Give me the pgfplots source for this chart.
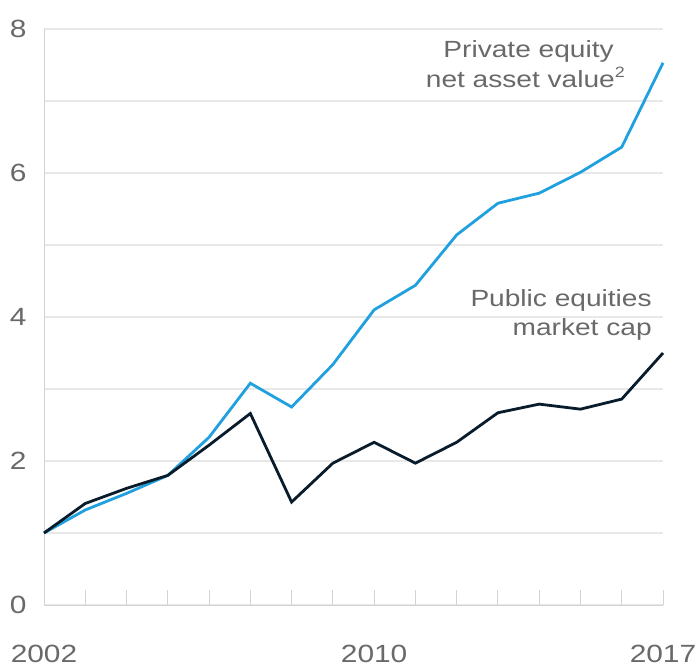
\documentclass[border=0pt]{standalone}
\usepackage{fontspec}
\setmainfont{Liberation Sans}[FakeStretch=1.2]
\usepackage{pgfplots}
\pgfplotsset{compat=1.18}
\definecolor{peblue}{RGB}{32,160,222}
\definecolor{navy}{RGB}{8,28,44}
\definecolor{gridgray}{RGB}{232,232,232}
\definecolor{txtgray}{RGB}{105,105,105}

\begin{document}
\begin{tikzpicture}
\begin{axis}[
    scale only axis,
    width=619bp, height=576bp,
    xmin=2002, xmax=2017,
    ymin=0, ymax=8,
    axis lines*=left,
    axis line style={gridgray!80!gray, line width=1bp},
    xtick={2002,2010,2017},
    minor xtick={2003,...,2016},
    ytick={0,2,4,6,8},
    minor ytick={1,3,5,7},
    ymajorgrids, yminorgrids,
    grid style={gridgray, line width=1.2bp},
    minor grid style={gridgray, line width=1.2bp},
    tick align=inside,
    major tick length=15bp,
    minor tick length=15bp,
    xtick style={gridgray!80!gray, line width=1bp},
    minor x tick style={gridgray!80!gray, line width=1bp},
    ytick style={draw=none},
    minor y tick style={draw=none},
    /pgf/number format/assume math mode=true,
    /pgf/number format/1000 sep={},
    tick label style={font=\fontsize{25}{30}\selectfont, text=txtgray},
    xticklabel style={anchor=north, yshift=-37bp},
    yticklabel style={anchor=east, xshift=-14bp},
    clip=false,
]
\addplot[peblue, line width=2.8bp] coordinates {
    (2002,1.00) (2003,1.32) (2004,1.55) (2005,1.80) (2006,2.33)
    (2007,3.08) (2008,2.75) (2009,3.34) (2010,4.10) (2011,4.44)
    (2012,5.14) (2013,5.58) (2014,5.72) (2015,6.01) (2016,6.36)
    (2017,7.53)
};
\addplot[navy, line width=2.8bp] coordinates {
    (2002,1.00) (2003,1.41) (2004,1.62) (2005,1.80) (2006,2.22)
    (2007,2.66) (2008,1.43) (2009,1.97) (2010,2.26) (2011,1.97)
    (2012,2.26) (2013,2.67) (2014,2.79) (2015,2.72) (2016,2.86)
    (2017,3.50)
};
\node[anchor=base east, inner sep=0, text=txtgray, font=\fontsize{23.5}{28}\selectfont]
    at (axis cs:2015.81,7.61) {Private equity};
\node[anchor=base east, inner sep=0, text=txtgray, font=\fontsize{23.5}{28}\selectfont]
    at (axis cs:2016.08,7.19) {net asset value\raisebox{0.42em}{\fontsize{15}{16}\selectfont 2}};
\node[anchor=base east, inner sep=0, text=txtgray, font=\fontsize{23.5}{28}\selectfont]
    at (axis cs:2016.73,4.14) {Public equities};
\node[anchor=base east, inner sep=0, text=txtgray, font=\fontsize{23.5}{28}\selectfont]
    at (axis cs:2016.73,3.75) {market cap};
\end{axis}
\pgfresetboundingbox
\path (-44bp,-66bp) rectangle (655bp,605bp);
\end{tikzpicture}
\end{document}
